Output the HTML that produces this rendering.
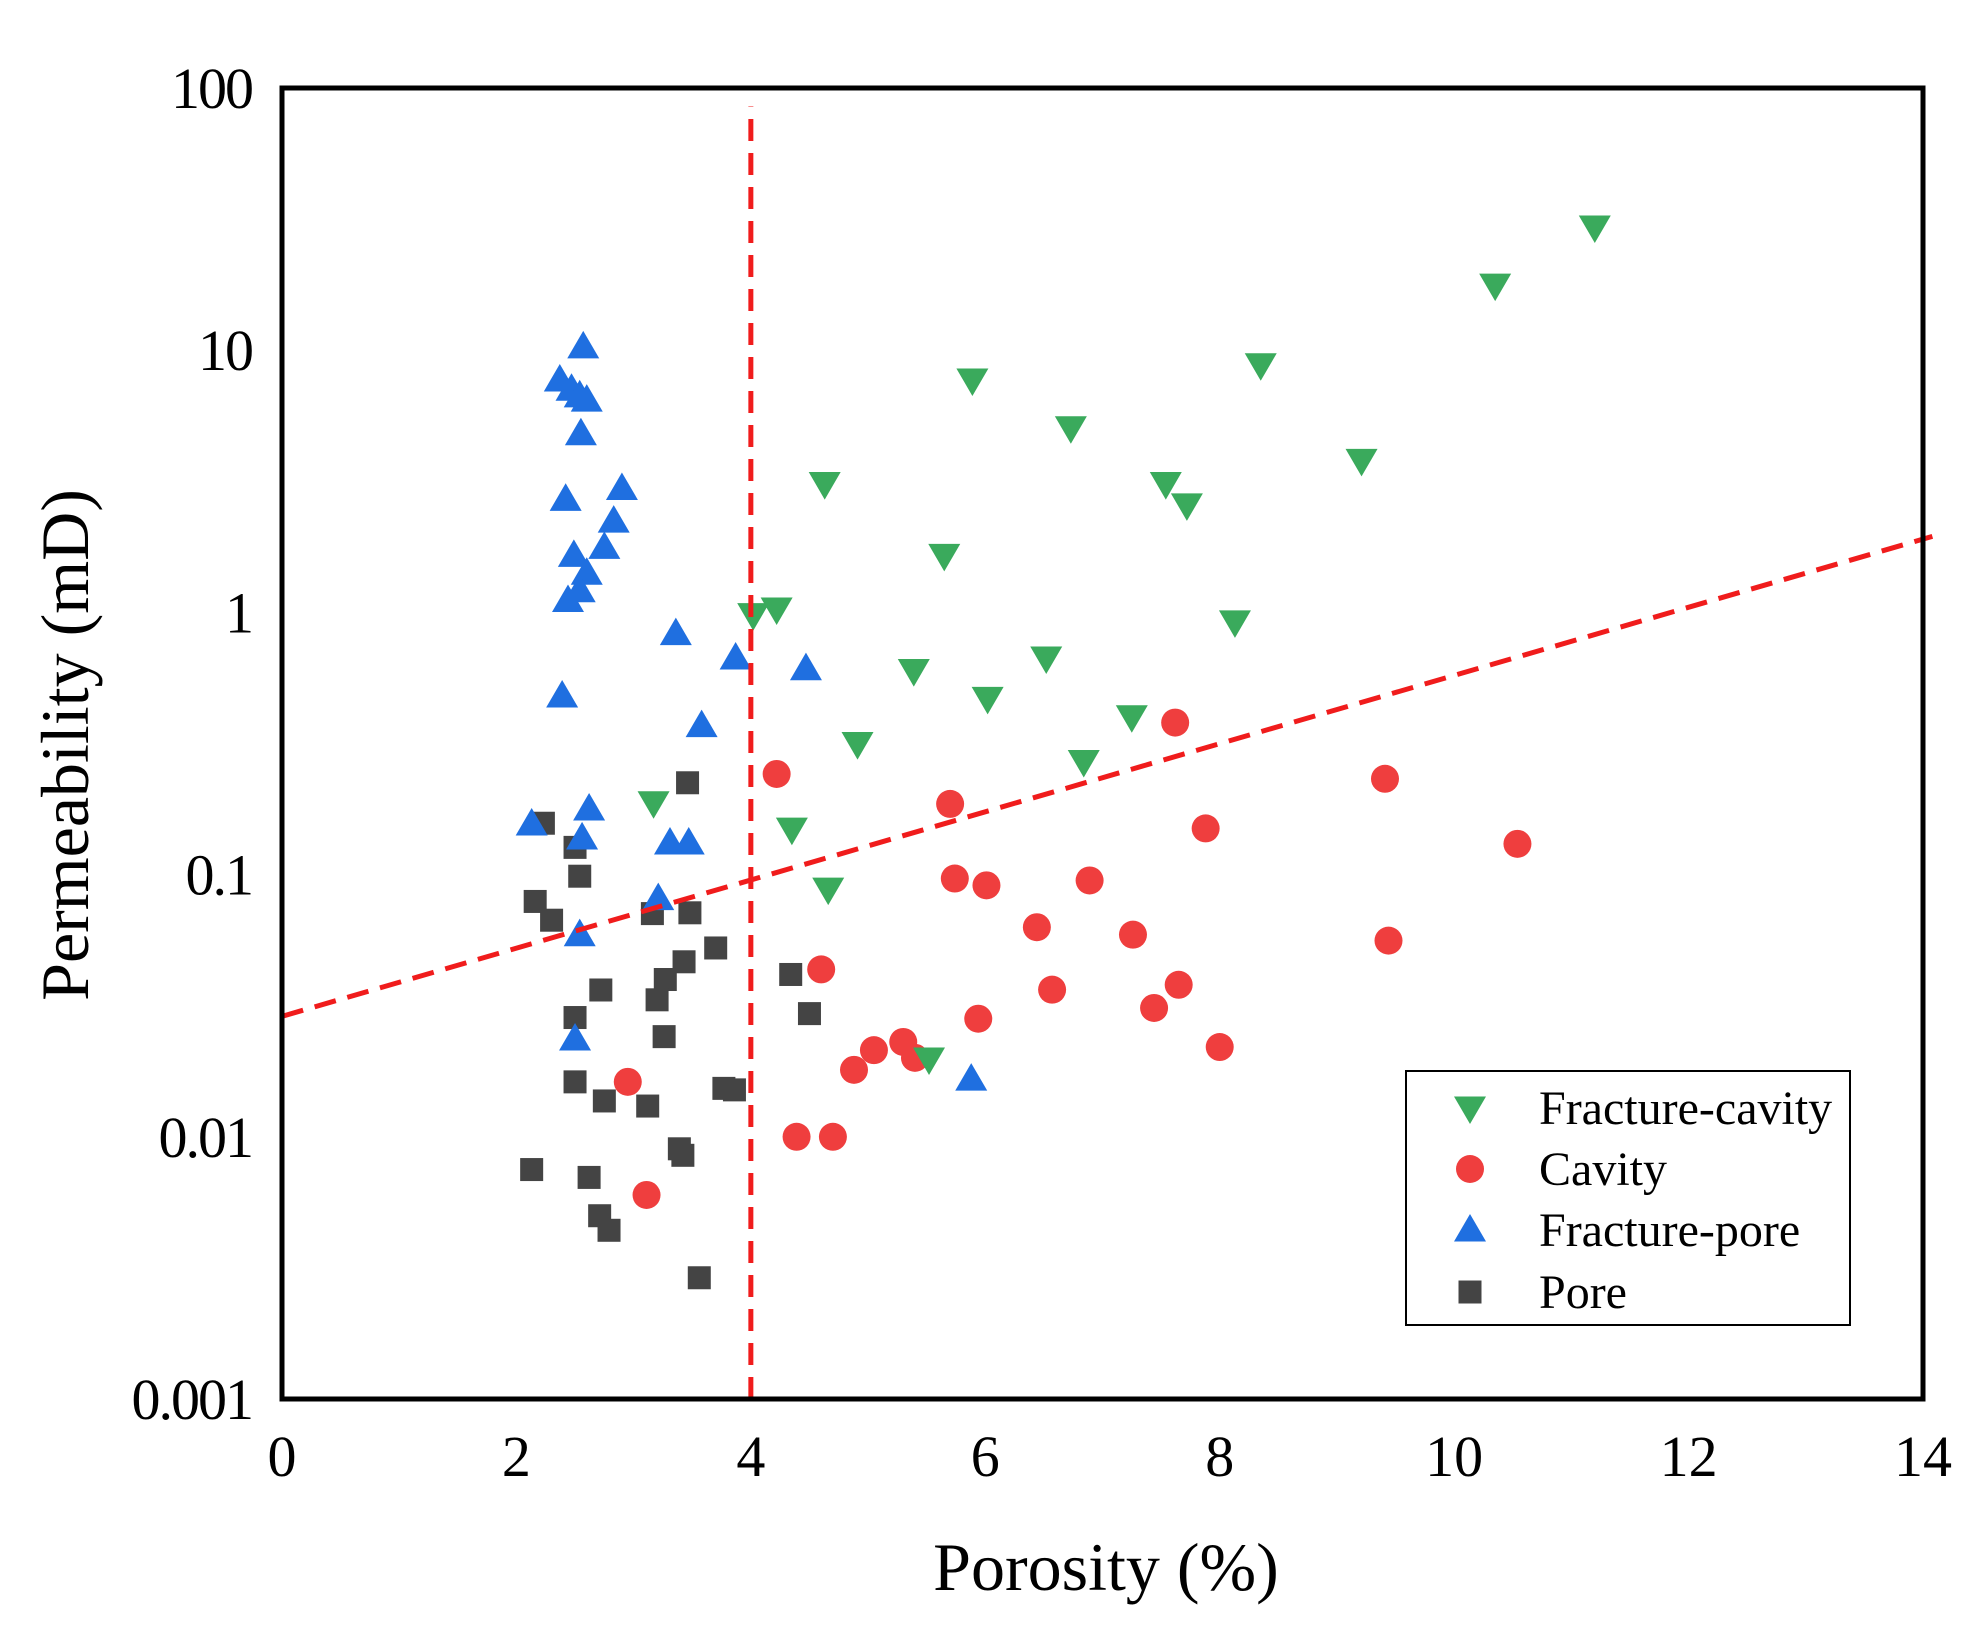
<!DOCTYPE html>
<html><head><meta charset="utf-8"><style>
html,body{margin:0;padding:0;background:#fff}
svg{display:block}
text{font-family:"Liberation Serif",serif;fill:#000}
</style></head><body>
<svg id="chart" width="1980" height="1632" xmlns="http://www.w3.org/2000/svg">
<g id="marks"></g>
<rect x="282" y="88" width="1641" height="1311" fill="none" stroke="#000" stroke-width="5"/>
<g id="ticks"></g>
<text x="1106" y="1590" font-size="68" text-anchor="middle">Porosity (%)</text>
<text transform="translate(88,745) rotate(-90)" font-size="68" text-anchor="middle">Permeability (mD)</text>
<g>
<rect x="1406" y="1071" width="444" height="254" fill="#fff" stroke="#000" stroke-width="2"/>
<g id="legend-items"></g>
</g>
</svg>
<script>
const xTicks=[0,2,4,6,8,10,12,14];
const yTicks=[0.001,0.01,0.1,1,10,100];
const yTickLabels=["0.001","0.01","0.1","1","10","100"];
const fcX=[11.20,10.35,8.35,5.89,6.73,9.21,4.63,7.54,7.72,5.65,8.13,4.02,4.22,5.39,6.52,6.02,7.25,4.91,6.84,3.17,4.35,4.66,5.52];
const fcY=[29.5,17.7,8.8,7.7,5.06,3.8,3.1,3.1,2.57,1.65,0.92,0.98,1.03,0.60,0.67,0.47,0.40,0.316,0.27,0.188,0.149,0.088,0.0198];
const cvX=[7.62,4.22,9.41,5.70,7.88,10.54,5.74,6.01,6.89,6.44,7.26,9.44,4.60,6.57,7.65,7.44,5.94,8.0,5.30,5.05,5.40,4.88,2.95,4.39,4.70,3.11];
const cvY=[0.38,0.242,0.232,0.186,0.150,0.131,0.0966,0.091,0.095,0.063,0.059,0.056,0.0435,0.0364,0.038,0.031,0.0282,0.022,0.023,0.0214,0.020,0.018,0.0162,0.0100,0.0100,0.006];
const fpX=[2.57,2.37,2.47,2.54,2.60,2.55,2.42,2.90,2.83,2.75,2.49,2.60,2.54,2.44,3.36,3.87,4.47,2.39,3.58,2.13,2.62,2.56,3.31,3.47,3.21,2.54,2.50,5.88];
const fpY=[10.3,7.7,7.1,6.7,6.45,4.8,2.7,2.97,2.23,1.77,1.65,1.41,1.21,1.11,0.83,0.67,0.61,0.48,0.37,0.156,0.178,0.138,0.132,0.132,0.081,0.059,0.0236,0.0166];
const poX=[2.23,3.46,2.50,2.54,2.16,2.30,3.16,3.48,3.70,3.43,3.27,4.34,2.72,3.20,2.50,4.50,3.26,2.50,3.77,3.86,2.75,3.12,3.39,3.42,2.13,2.62,2.71,2.79,3.56];
const poY=[0.157,0.224,0.127,0.0986,0.079,0.067,0.071,0.0715,0.0525,0.0465,0.0398,0.0416,0.0363,0.0333,0.0285,0.0295,0.0241,0.0162,0.0153,0.0151,0.0137,0.0131,0.009,0.0085,0.0075,0.0070,0.0050,0.0044,0.0029];
const fitX=[0,14.08];
const fitY=[0.0288,1.95];
const cutX=[4,4];
const cutY=[0.001,85];

const NS="http://www.w3.org/2000/svg";
const X=v=>282+v*(1641/14);
const Y=v=>1399-(Math.log10(v)+3)*(1311/5);
const marks=document.getElementById('marks');
const tk=document.getElementById('ticks');
function mk(tag,at,parent){const e=document.createElementNS(NS,tag);for(const k in at)e.setAttribute(k,at[k]);parent.appendChild(e);return e;}

xTicks.forEach(t=>{const e=mk('text',{x:X(t),y:1476,'font-size':58,'text-anchor':'middle'},tk);e.textContent=t;

});
yTicks.forEach((t,i)=>{const e=mk('text',{x:252,y:Y(t)+20,'font-size':58,'text-anchor':'end','letter-spacing':'-2'},tk);e.textContent=yTickLabels[i];

});

function down(x,y,s){return `${x-s/2},${y-s*0.36} ${x+s/2},${y-s*0.36} ${x},${y+s*0.5}`;}
function up(x,y,s){return `${x-s/2},${y+s*0.36} ${x+s/2},${y+s*0.36} ${x},${y-s*0.5}`;}
function drawFC(x,y,p){return mk('polygon',{points:down(x,y,32),fill:'#3aaa5c'},p);}
function drawCV(x,y,p){return mk('circle',{cx:x,cy:y,r:14,fill:'#ef3e3e'},p);}
function drawFP(x,y,p){return mk('polygon',{points:up(x,y,32),fill:'#1f6fe0'},p);}
function drawPO(x,y,p){return mk('rect',{x:x-11.5,y:y-11.5,width:23,height:23,fill:'#444'},p);}

poX.forEach((v,i)=>{const e=drawPO(X(v),Y(poY[i]),marks);

});
cvX.forEach((v,i)=>{const e=drawCV(X(v),Y(cvY[i]),marks);

});
fpX.forEach((v,i)=>{const e=drawFP(X(v),Y(fpY[i]),marks);

});
fcX.forEach((v,i)=>{const e=drawFC(X(v),Y(fcY[i]),marks);

});

const fit=mk('line',{x1:X(fitX[0]),y1:Y(fitY[0]),x2:X(fitX[1]),y2:Y(fitY[1]),stroke:'#f01c1c','stroke-width':5,'stroke-dasharray':'22,12'},marks);


const cut=mk('line',{x1:X(cutX[0]),y1:Y(cutY[0]),x2:X(cutX[1]),y2:Y(cutY[1]),stroke:'#f01c1c','stroke-width':5,'stroke-dasharray':'22,12'},marks);



const li=document.getElementById('legend-items');
const names=["Fracture-cavity","Cavity","Fracture-pore","Pore"];
const fns=[drawFC,drawCV,drawFP,drawPO];
const rows=[1108,1169,1230,1292];
names.forEach((n,i)=>{const m=fns[i](1470,rows[i],li);


const t=mk('text',{x:1539,y:rows[i]+16,'font-size':48},li);t.textContent=n;

});
</script>
</body></html>
